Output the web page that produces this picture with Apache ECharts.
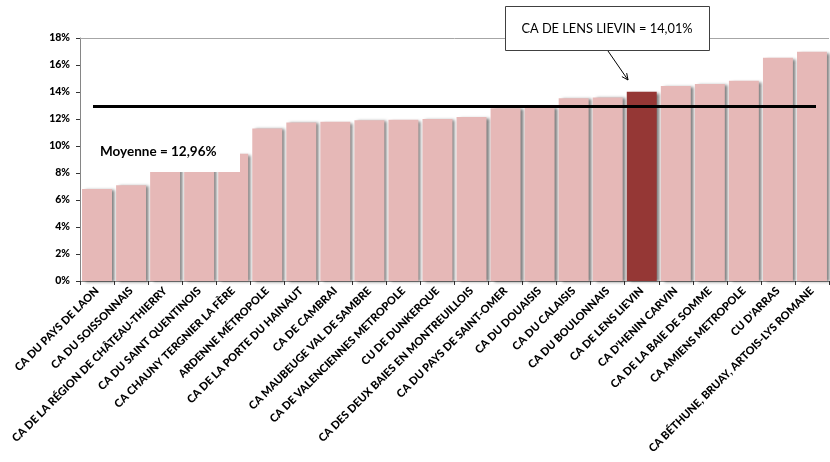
<!DOCTYPE html>
<html>
<head>
<meta charset="utf-8">
<script src="https://cdn.jsdelivr.net/npm/echarts@6/dist/echarts.min.js"></script>
<style>
  html, body { margin: 0; padding: 0; background: #fff; }
  #chart { width: 830px; height: 462px; }
</style>
</head>
<body>
<div id="chart"></div>
<script>
// agglomerations, sorted by rate
const categories = [
  'CA DU PAYS DE LAON',
  'CA DU SOISSONNAIS',
  'CA DE LA RÉGION DE CHÂTEAU-THIERRY',
  'CA DU SAINT QUENTINOIS',
  'CA CHAUNY TERGNIER LA FÈRE',
  'ARDENNE MÉTROPOLE',
  'CA DE LA PORTE DU HAINAUT',
  'CA DE CAMBRAI',
  'CA MAUBEUGE VAL DE SAMBRE',
  'CA DE VALENCIENNES METROPOLE',
  'CU DE DUNKERQUE',
  'CA DES DEUX BAIES EN MONTREUILLOIS',
  'CA DU PAYS DE SAINT-OMER',
  'CA DU DOUAISIS',
  'CA DU CALAISIS',
  'CA DU BOULONNAIS',
  'CA DE LENS LIEVIN',
  "CA D'HENIN CARVIN",
  'CA DE LA BAIE DE SOMME',
  'CA AMIENS METROPOLE',
  "CU D'ARRAS",
  'CA BÉTHUNE, BRUAY, ARTOIS-LYS ROMANE'
]
const rates = [6.81, 7.1, 8.4, 8.9, 9.43, 11.3, 11.75, 11.8, 11.9, 11.95, 12.0, 12.15,
  12.79, 12.86, 13.53, 13.6, 14.01, 14.44, 14.59, 14.84, 16.54, 16.99]
const yTicks = [0, 2, 4, 6, 8, 10, 12, 14, 16, 18]
const average = 12.96
const highlight = 'CA DE LENS LIEVIN'

const font = 'Lato, "Open Sans", sans-serif'

const chart = echarts.init(document.getElementById('chart'))

const option = {
  animation: false,
  grid: { left: 80, right: 1, top: 38, bottom: 181 },
  xAxis: {
    type: 'category',
    data: categories,
    axisLine: { lineStyle: { color: '#868686', width: 1 } },
    axisTick: { show: true, length: 4, lineStyle: { color: '#333' } },
    axisLabel: {
      interval: 0,
      rotate: 45,
      margin: 8,
      color: '#000',
      fontFamily: font,
      fontWeight: 900,
      fontSize: 11
    }
  },
  yAxis: {
    type: 'value',
    min: yTicks[0],
    max: yTicks[yTicks.length - 1],
    interval: 2,
    axisLine: { show: true, lineStyle: { color: '#868686' } },
    axisTick: { show: true, length: 4, lineStyle: { color: '#333' } },
    splitLine: { show: false },
    axisLabel: {
      formatter: v => v + '%',
      color: '#000',
      fontFamily: font,
      fontWeight: 900,
      fontSize: 10.5,
      margin: 10
    }
  },
  series: [{
    type: 'bar',
    barCategoryGap: '12%',
    data: rates.map((v, i) => ({
      value: v,
      itemStyle: { color: categories[i] === highlight ? '#953735' : '#E6B8B7' }
    })),
    itemStyle: {
      shadowColor: 'rgba(0,0,0,0.5)',
      shadowBlur: 3,
      shadowOffsetX: 3,
      shadowOffsetY: 1
    },
    markLine: {
      silent: true,
      symbol: 'none',
      label: { show: false },
      data: [
        [
          { coord: [0, average], x: 93, lineStyle: { color: '#000', width: 3, type: 'solid' } },
          { coord: [categories.length - 1, average], x: 816 }
        ],
        { yAxis: yTicks[yTicks.length - 1], lineStyle: { color: '#a6a6a6', width: 1, type: 'solid' } }
      ]
    }
  }],
  graphic: [
    {
      type: 'rect', z: 100,
      shape: { x: 95, y: 138, width: 145, height: 34 },
      style: { fill: '#fff' }
    },
    {
      type: 'text', z: 101,
      x: 100, y: 152,
      style: {
        text: 'Moyenne = 12,96%',
        font: 'bold 13.5px ' + font,
        fill: '#000',
        verticalAlign: 'middle'
      }
    },
    {
      type: 'rect', z: 100,
      shape: { x: 505.5, y: 6.5, width: 204, height: 44 },
      style: { fill: '#fff', stroke: '#404040', lineWidth: 1 }
    },
    {
      type: 'text', z: 101,
      x: 607, y: 29,
      style: {
        text: 'CA DE LENS LIEVIN = 14,01%',
        font: '12.8px ' + font,
        fill: '#000',
        align: 'center',
        verticalAlign: 'middle'
      }
    },
    {
      type: 'polyline', z: 101,
      shape: { points: [[608, 51], [628, 80]] },
      style: { stroke: '#000', lineWidth: 1 }
    },
    {
      type: 'polyline', z: 101,
      shape: { points: [[626.7, 73.1], [628, 80], [621.9, 76.6]] },
      style: { stroke: '#000', lineWidth: 1, fill: null }
    }
  ]
}

chart.setOption(option)
</script>
</body>
</html>
